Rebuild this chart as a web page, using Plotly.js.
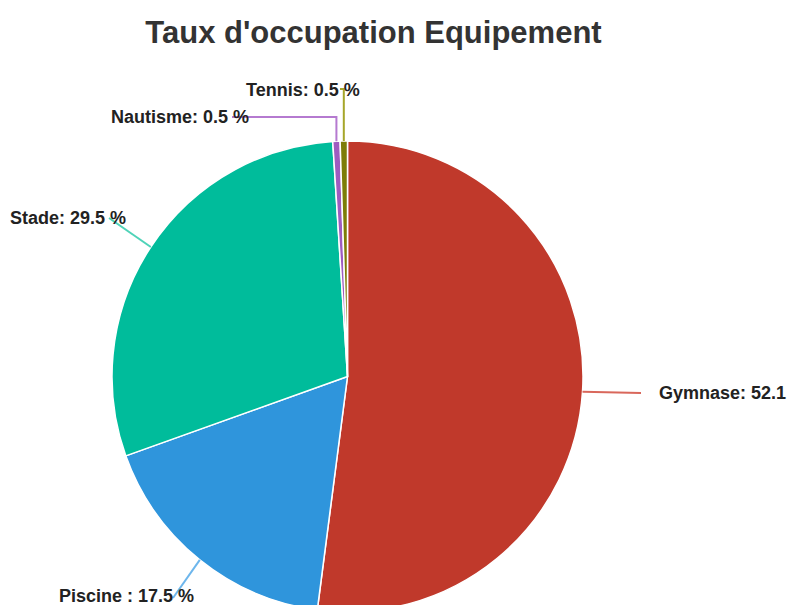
<!DOCTYPE html>
<html>
<head>
<meta charset="utf-8">
<script src="https://cdn.plot.ly/plotly-3.0.1.min.js"></script>
<style>
html,body{margin:0;padding:0;overflow:hidden;background:#fff;}
#chart{width:790px;height:640px;}
</style>
</head>
<body>
<div id="chart"></div>
<script>
// ---- data ----
var categories = ["Gymnase", "Piscine ", "Stade", "Nautisme", "Tennis"];
var values = [52.1, 17.5, 29.5, 0.5, 0.5];
var labelTexts = ["Gymnase: 52.1", "Piscine : 17.5 %", "Stade: 29.5 %", "Nautisme: 0.5 %", "Tennis: 0.5 %"];
var sliceColors = ["#c0392b", "#2f95dc", "#00bc9b", "#9e5cc0", "#7d7d08"];
var lineColors = ["#d9675b", "#6db6ec", "#4fd3b8", "#b57ad0", "#a6a62a"];

// ---- layout config (pixels) ----
var W = 790, H = 640;
var pieLeft = 112, pieRight = 583, pieTop = 141, pieBottom = 612;
// label anchor (left x, middle y) and connector end point, elbow flag
var labelPos = [
  {lx: 657, ly: 393, ex: 641, ey: 393, elbow: false},
  {lx: 57,  ly: 596, ex: 173, ey: 598, elbow: false},
  {lx: 8,   ly: 218, ex: 109, ey: 218, elbow: false},
  {lx: 109, ly: 117, ex: 232, ey: 117, elbow: true},
  {lx: 244, ly: 90,  ex: 340, ey: 89,  elbow: true}
];

var domX = [pieLeft / W, pieRight / W];
var domY = [1 - pieBottom / H, 1 - pieTop / H];
var cx = (pieLeft + pieRight) / 2, cy = (pieTop + pieBottom) / 2;
var r = (pieRight - pieLeft) / 2;

var total = values.reduce(function (a, b) { return a + b; }, 0);
var shapes = [], annotations = [];
var cum = 0;
values.forEach(function (v, i) {
  var mid = (cum + v / 2) / total * 2 * Math.PI;
  cum += v;
  var px = cx + r * Math.sin(mid), py = cy - r * Math.cos(mid);
  var L = labelPos[i];
  var path = "M" + (px / W) + "," + (1 - py / H);
  if (L.elbow) path += " L" + (px / W) + "," + (1 - L.ey / H);
  path += " L" + (L.ex / W) + "," + (1 - L.ey / H);
  shapes.push({type: "path", xref: "paper", yref: "paper", path: path,
    line: {color: lineColors[i], width: 2}, layer: "above"});
  annotations.push({xref: "paper", yref: "paper", x: L.lx / W, y: 1 - L.ly / H,
    xanchor: "left", yanchor: "middle", showarrow: false,
    text: "<b>" + labelTexts[i] + "</b>",
    font: {family: "Liberation Sans, Arial, sans-serif", size: 18, color: "#222"}});
});

var trace = {
  type: "pie",
  labels: categories,
  values: values,
  sort: false,
  direction: "clockwise",
  rotation: 0,
  textinfo: "none",
  hoverinfo: "label+percent",
  marker: {colors: sliceColors, line: {color: "#ffffff", width: 1.5}},
  domain: {x: domX, y: domY},
  showlegend: false
};

var layout = {
  width: W, height: H,
  margin: {l: 0, r: 0, t: 0, b: 0},
  paper_bgcolor: "#ffffff",
  title: {
    text: "<b>Taux d'occupation Equipement</b>",
    font: {family: "Liberation Sans, Arial, sans-serif", size: 31, color: "#333333"},
    x: 373.5 / W, xref: "paper", xanchor: "center",
    y: 1 - 32 / H, yref: "container", yanchor: "middle"
  },
  shapes: shapes,
  annotations: annotations,
  showlegend: false
};

Plotly.newPlot("chart", [trace], layout, {displayModeBar: false, staticPlot: true});
</script>
</body>
</html>
